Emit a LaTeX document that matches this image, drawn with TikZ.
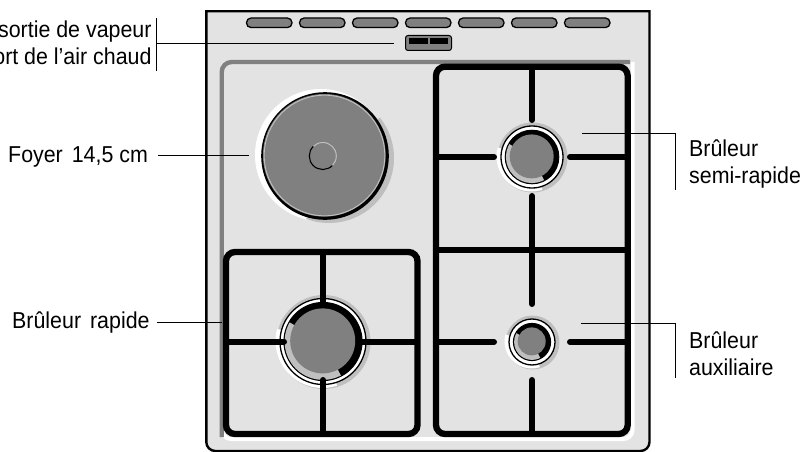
\documentclass[tikz,border=0pt]{standalone}
\usepackage{fontspec}
\setmainfont[FakeStretch=0.93]{Liberation Sans}
\definecolor{panel}{gray}{0.89}
\definecolor{midg}{gray}{0.5}
\definecolor{shadowg}{gray}{0.75}
\newcommand{\burnerdraw}[5]{% x,y,outer ring r,inner ring r,gray r
  \fill[shadowg] (#1+0.5,#2+0.5) circle ({#3+4});
  \fill[white] (#1-0.5,#2-0.5) -- ++(72:{#3+4}) arc[start angle=72,end angle=195,radius={#3+4}] -- cycle;
  \fill[white] (#1,#2) circle (#3);
  \draw[ringline] (#1,#2) circle (#3);
  \fill[black] (#1,#2) circle ({#4+0.6});
  \fill[shadowg] (#1,#2) circle ({#4-0.6});
  \fill[black] (#1,#2) -- ++(62:{#4}) arc[start angle=62,end angle=-150,radius={#4}] -- cycle;
  \fill[midg] (#1-0.3,#2-0.6) circle (#5);
}
\tikzset{
  x=1pt,y=-1pt,
  lab/.style={inner sep=0pt,anchor=base west,font=\fontsize{23}{24}\selectfont},
  labr/.style={inner sep=0pt,anchor=base east,font=\fontsize{23}{24}\selectfont},
  leader/.style={black,line width=0.9pt},
  grate/.style={black,line width=6.3pt,rounded corners=9pt},
  bar/.style={black,line width=6pt,line cap=round},
  ringline/.style={black,line width=1.3pt},
  knob/.style={draw=black,line width=1.3pt,fill=midg,rounded corners=4.6pt},
}
\begin{document}
\begin{tikzpicture}
\useasboundingbox (0,0) rectangle (804,452);
% body
\path[fill=panel,draw=black,line width=2.4pt] (206.3,11.3) -- (649.5,11.3) -- (649.5,442) arc[start angle=0,end angle=90,radius=9] -- (215.3,451) arc[start angle=90,end angle=180,radius=9] -- cycle;
% tray
\draw[white,line width=4pt,rounded corners=9pt] (222,420) -- (222,439) -- (632.5,439) -- (632.5,62);
\draw[midg,line width=4.4pt,rounded corners=10pt] (221.7,437) -- (221.7,62) -- (630,62);
% knobs
\foreach \kx in {246.5,299.5,352.5,405.5,458.5,511.5,564.5}
  \draw[knob] (\kx,18) rectangle (\kx+45.5,27.6);
% vent
\draw[black,line width=1pt,fill=midg,rounded corners=2.5pt] (405.5,35.5) rectangle (451.5,50.5);
\fill[black] (409,38) rectangle (428,44);
\fill[black] (430,38) rectangle (448,44);
% grates
\draw[grate] (226,252) rectangle (417.5,434);
\draw[grate] (436,66.7) rectangle (627.7,434);
\draw[black,line width=6.3pt] (436,250) -- (627.7,250);
% hotplate
\fill[white] (321,155) circle (66);
\begin{scope}
  \clip (325,156) -- (425,86) -- (425,240) -- (300,240) -- cycle;
  \fill[shadowg] (329,158) circle (65);
\end{scope}
\fill[black] (325,156) circle (63.8);
\fill[midg] (324.3,155.3) circle (61.3);
\draw[shadowg,line width=0.9pt] (324.5,155.5) circle (60.3);
\draw[shadowg,line width=1pt] (322.8,156) circle (13.5);
\draw[black,line width=1.2pt] (322.8,156) ++(45:13.5) arc[start angle=45,end angle=225,radius=13.5];
% burners
\burnerdraw{532}{157}{31}{26.7}{22}
\burnerdraw{323}{341.5}{43}{39}{32.5}
\burnerdraw{532}{342}{23}{18.5}{14}
% bars
\draw[bar] (532,68) -- (532,120);
\draw[bar] (532,196) -- (532,250);
\draw[bar] (438,157) -- (494,157);
\draw[bar] (570,157) -- (626,157);
\draw[bar] (532,250) -- (532,304);
\draw[bar] (532,380) -- (532,434);
\draw[bar] (438,342) -- (494,342);
\draw[bar] (570,342) -- (626,342);
\draw[bar] (323,252) -- (323,303);
\draw[bar] (323,380) -- (323,434);
\draw[bar] (228,341.5) -- (284,341.5);
\draw[bar] (360,341.5) -- (416,341.5);
% labels
\node[labr] (vap) at (151.7,37.3) {sortie de vapeur};
\node[labr] (air) at (151.7,64.3) {port de l’air chaud};
\coordinate (sep) at (156.7,43.7);
\coordinate (sept) at (156.7,18);
\coordinate (sepb) at (156.7,71);
\coordinate (ventp) at (394,43.7);
\draw[leader] (sept) -- (sepb);
\draw[leader] (sep) -- (ventp);
\node[lab] (foyer) at (8,162.7) {Foyer\hspace{9pt}14,5\hspace{6pt}cm};
\coordinate (foyers) at (158,155);
\coordinate (foyerp) at (249,155);
\draw[leader] (foyers) -- (foyerp);
\node[lab] (rapide) at (12,328) {Brûleur\hspace{9pt}rapide};
\coordinate (rapides) at (157,322);
\coordinate (rapidep) at (222,322);
\draw[leader] (rapides) -- (rapidep);
\node[lab] (semia) at (689,156) {Brûleur};
\node[lab] (semib) at (689,183) {semi-rapide};
\coordinate (semip) at (582,133.7);
\coordinate (semie) at (675,190);
\draw[leader] (semip) -| (semie);
\node[lab] (auxa) at (689,348) {Brûleur};
\node[lab] (auxb) at (689,375) {auxiliaire};
\coordinate (auxp) at (581,323);
\coordinate (auxe) at (675,378);
\draw[leader] (auxp) -| (auxe);
\end{tikzpicture}
\end{document}
